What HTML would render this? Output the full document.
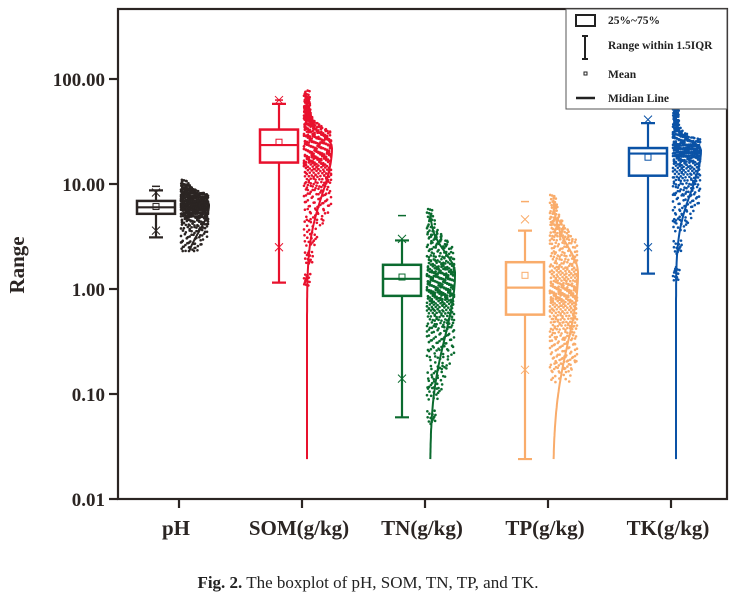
<!DOCTYPE html>
<html><head><meta charset="utf-8"><style>
body{margin:0;background:#fff;width:736px;height:611px;overflow:hidden}
svg text{font-family:"Liberation Serif",serif}
</style></head><body>
<svg id="chart" width="736" height="611">
<rect x="118" y="9" width="609" height="490" fill="none" stroke="#2b2523" stroke-width="2.2"/>
<g id="yaxis"></g>
<g id="xaxis"></g>
<g id="series"></g>
<text x="24" y="265" font-size="21" font-weight="bold" text-anchor="middle" transform="rotate(-90 24 265)" fill="#2b2523">Range</text>
<g>
<rect x="566" y="9" width="161" height="100" fill="#fff" stroke="#555" stroke-width="1"/>
<rect x="576" y="15" width="19" height="11" fill="none" stroke="#222" stroke-width="2"/>
<text x="608" y="24" font-size="11.5" font-weight="bold" fill="#222">25%~75%</text>
<path d="M582 36h6M585 36v23M582 59h6" stroke="#222" stroke-width="2" fill="none"/>
<text x="608" y="49" font-size="11.5" font-weight="bold" fill="#222">Range within 1.5IQR</text>
<rect x="584" y="72" width="3" height="3" fill="none" stroke="#222" stroke-width="1"/>
<text x="608" y="78" font-size="11.5" font-weight="bold" fill="#222">Mean</text>
<path d="M576 98h19" stroke="#222" stroke-width="2.5"/>
<text x="608" y="102" font-size="11.5" font-weight="bold" fill="#222">Midian Line</text>
</g>
<text x="368" y="588" font-size="17" text-anchor="middle" fill="#222"><tspan font-weight="bold">Fig. 2.</tspan>  The boxplot of pH, SOM, TN, TP, and TK.</text>
</svg>
<script>
const categories=["pH","SOM(g/kg)","TN(g/kg)","TP(g/kg)","TK(g/kg)"];
const colors=["#2b2523","#e8112d","#0b6b2f","#f9ac6b","#0a52a6"];
const q1=[5.2,16,0.86,0.57,12];
const medians=[6.0,23.5,1.25,1.03,19.5];
const q3=[6.9,33,1.7,1.8,22];
const means=[6.1,25,1.3,1.35,18];
const whiskLow=[3.1,1.15,0.06,0.024,1.4];
const whiskHigh=[8.7,58,2.9,3.6,38];
const pctLow=[3.6,2.5,0.14,0.17,2.5];
const pctHigh=[8.3,63,3.0,4.6,41];
const maxVals=[9.5,63,5,6.8,66];
const curveMin=[2.3,0.024,0.024,0.024,0.024];
const curveMeanLog=[0.8,1.35,0.15,0.15,1.33];
const curveSdLow=[0.25,0.45,0.6,0.65,0.4];
const curveSdHigh=[0.08,0.12,0.2,0.25,0.08];
const yTicks=[0.01,0.1,1,10,100];
const yTickLabels=["0.01","0.10","1.00","10.00","100.00"];
const pts=[
[2.4,2.8,3.2,3.6,4.0,4.3,4.6,4.8,5.0,5.2,5.3,5.4,5.5,5.6,5.7,5.8,5.9,6.0,6.1,6.2,6.3,6.4,6.5,6.6,6.7,6.8,6.9,7.0,7.2,7.4,7.6,7.8,8.0,8.2,8.4,8.6,8.9,9.2,9.5,5.5],
[1.2,2.0,3.0,4.0,5.0,6.0,7.0,8.0,9.0,10,11,12,13,14,15,16,17,18,19,20,21,22,23,24,25,26,27,28,30,32,34,36,38,40,43,46,50,55,60,68],
[0.06,0.1,0.13,0.16,0.2,0.25,0.3,0.35,0.4,0.45,0.5,0.55,0.6,0.65,0.7,0.75,0.8,0.85,0.9,0.95,1.0,1.05,1.1,1.15,1.2,1.25,1.3,1.35,1.4,1.5,1.6,1.7,1.8,2.0,2.2,2.5,2.8,3.2,3.6,5.0],
[0.15,0.18,0.2,0.23,0.26,0.3,0.34,0.38,0.42,0.46,0.5,0.55,0.6,0.65,0.7,0.75,0.8,0.85,0.9,0.95,1.0,1.05,1.1,1.2,1.3,1.4,1.5,1.6,1.8,2.0,2.2,2.5,2.8,3.1,3.4,3.8,4.2,4.7,5.5,6.8],
[1.4,2.5,4.0,5.0,6.0,7.0,8.0,9.0,10,11,12,13,14,15,16,17,18,18.5,19,19.5,20,20.5,21,21.5,22,22.5,23,24,25,26,27,28,30,33,36,40,45,50,57,66]
];
const NS="http://www.w3.org/2000/svg";
function ys(v){return 289-105*Math.log10(v);}
function xs(i){return 179+i*123;}
function curveX(i,lv){const sd=lv<curveMeanLog[i]?curveSdLow[i]:curveSdHigh[i];const z=(lv-curveMeanLog[i])/sd;return xs(i)+5+25*Math.exp(-0.5*z*z);}
function mk(tag,attrs,parent){const e=document.createElementNS(NS,tag);for(const k in attrs)e.setAttribute(k,attrs[k]);parent.appendChild(e);return e;}
const ya=document.getElementById('yaxis'),xa=document.getElementById('xaxis'),sg=document.getElementById('series');
yTicks.forEach((t,i)=>{
const l=mk('line',{x1:109,x2:118,y1:ys(t),y2:ys(t),stroke:'#2b2523','stroke-width':2.2},ya);


const tx=mk('text',{x:105,y:ys(t)+7,'font-size':19,'font-weight':'bold','text-anchor':'end',fill:'#2b2523'},ya);
tx.textContent=yTickLabels[i];


});
categories.forEach((c,i)=>{
const l=mk('line',{x1:xs(i),x2:xs(i),y1:499,y2:508,stroke:'#2b2523','stroke-width':2.2},xa);


const tx=mk('text',{x:xs(i)-3,y:535,'font-size':21,'font-weight':'bold','text-anchor':'middle',fill:'#2b2523'},xa);
tx.textContent=c;


});
categories.forEach((c,i)=>{
const col=colors[i],bx=xs(i)-23,g=mk('g',{},sg);


const wk=mk('path',{d:`M${bx} ${ys(whiskLow[i])}V${ys(q1[i])}M${bx} ${ys(q3[i])}V${ys(whiskHigh[i])}M${bx-7} ${ys(whiskLow[i])}h14M${bx-7} ${ys(whiskHigh[i])}h14`,stroke:col,'stroke-width':2.2,fill:'none'},g);


const b=mk('rect',{x:bx-19,y:ys(q3[i]),width:38,height:ys(q1[i])-ys(q3[i]),fill:'none',stroke:col,'stroke-width':2.5},g);


const md=mk('line',{x1:bx-19,x2:bx+19,y1:ys(medians[i]),y2:ys(medians[i]),stroke:col,'stroke-width':2.2},g);


const mn=mk('rect',{x:bx-3,y:ys(means[i])-3,width:6,height:6,fill:'none',stroke:col,'stroke-width':1},g);


[pctLow[i],pctHigh[i]].forEach(v=>{
const xm=mk('path',{d:`M${bx-4} ${ys(v)-4}l8 8M${bx+4} ${ys(v)-4}l-8 8`,stroke:col,'stroke-width':1},g);


});
const dm=mk('line',{x1:bx-4,x2:bx+4,y1:ys(maxVals[i]),y2:ys(maxVals[i]),stroke:col,'stroke-width':1.5},g);


pts[i].forEach((v,j)=>{for(let k=0;k<14;k++){
const jy=(((j*13+k*29+i*5)%23)-11)*0.6;
const yy=Math.min(ys(v)+jy,ys(curveMin[i]));
const cx=curveX(i,(289-yy)/105);
const lim=Math.min(Math.max((cx-xs(i)-2)*1.9,4),27);
const f=((j*37+k*53+i*11)%29)/28;
const p=mk('circle',{cx:xs(i)+2+f*lim,cy:yy,r:1.3,fill:col},g);


}});
let d='';const lo=Math.log10(curveMin[i]),hi=Math.log10(maxVals[i]*1.05);
for(let s=0;s<=100;s++){const lv=lo+(hi-lo)*s/100;
const x=curveX(i,lv);const y=289-105*lv;d+=(s?'L':'M')+x.toFixed(1)+' '+y.toFixed(1);}
const cv=mk('path',{d:d,stroke:col,'stroke-width':2,fill:'none'},g);


});
</script>
</body></html>
